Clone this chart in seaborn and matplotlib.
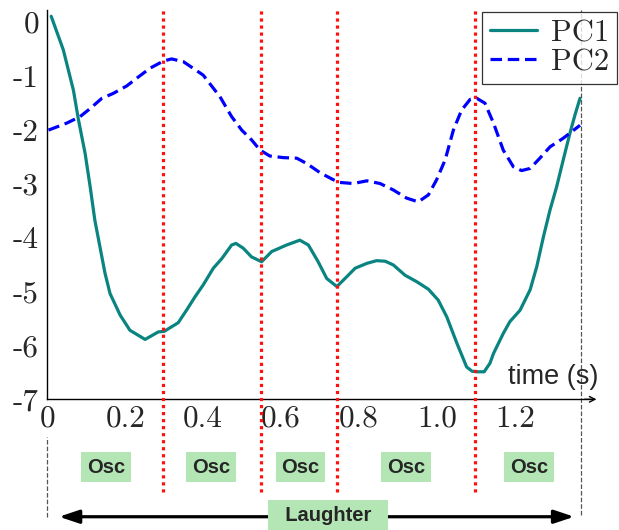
import matplotlib
matplotlib.use("Agg")
import matplotlib.pyplot as plt
import pandas as pd
import seaborn as sns

# Principal-component scores over one laughter episode
pc1_time = [0.010, 0.041, 0.067, 0.080, 0.097, 0.110, 0.122, 0.135, 0.148, 0.161,
            0.187, 0.212, 0.251, 0.285, 0.300, 0.336, 0.358, 0.379, 0.400, 0.426,
            0.448, 0.473, 0.484, 0.503, 0.524, 0.550, 0.576, 0.614, 0.648, 0.670,
            0.695, 0.717, 0.743, 0.764, 0.790, 0.820, 0.845, 0.867, 0.888, 0.918,
            0.948, 0.978, 1.003, 1.025, 1.051, 1.076, 1.090, 1.102, 1.121, 1.136,
            1.145, 1.170, 1.187, 1.213, 1.239, 1.256, 1.273, 1.290, 1.307, 1.324,
            1.341, 1.354, 1.367]
pc1_score = [0.10, -0.52, -1.27, -1.82, -2.44, -3.06, -3.68, -4.17, -4.66, -5.04,
             -5.44, -5.72, -5.89, -5.75, -5.74, -5.58, -5.34, -5.10, -4.88, -4.57,
             -4.39, -4.14, -4.11, -4.20, -4.36, -4.45, -4.26, -4.14, -4.05, -4.14,
             -4.45, -4.76, -4.91, -4.76, -4.57, -4.48, -4.43, -4.44, -4.51, -4.70,
             -4.82, -4.96, -5.16, -5.47, -5.96, -6.40, -6.48, -6.49, -6.49, -6.33,
             -6.15, -5.78, -5.56, -5.35, -4.97, -4.54, -3.99, -3.49, -3.06, -2.56,
             -2.07, -1.73, -1.42]

pc2_time = [0.003, 0.050, 0.084, 0.110, 0.140, 0.169, 0.204, 0.229, 0.264, 0.298,
            0.319, 0.349, 0.400, 0.443, 0.473, 0.499, 0.524, 0.546, 0.571, 0.606,
            0.640, 0.666, 0.700, 0.734, 0.751, 0.785, 0.820, 0.854, 0.888, 0.922,
            0.952, 0.978, 0.999, 1.021, 1.042, 1.063, 1.085, 1.102, 1.123, 1.145,
            1.170, 1.196, 1.217, 1.239, 1.264, 1.290, 1.324, 1.367]
pc2_score = [-2.01, -1.88, -1.76, -1.61, -1.42, -1.33, -1.19, -1.05, -0.86, -0.73,
             -0.69, -0.74, -0.99, -1.39, -1.76, -2.01, -2.19, -2.38, -2.49, -2.52,
             -2.53, -2.63, -2.80, -2.93, -2.98, -3.00, -2.95, -3.00, -3.12, -3.27,
             -3.34, -3.21, -2.93, -2.56, -2.01, -1.64, -1.44, -1.42, -1.51, -1.88,
             -2.38, -2.69, -2.76, -2.72, -2.53, -2.32, -2.16, -1.92]

# Segment boundaries and oscillation phase labels
boundaries = [0.298, 0.549, 0.743, 1.098]
osc_centers = [0.151, 0.420, 0.649, 0.920, 1.236]
osc_label = "Osc"
episode_label = "Laughter"
episode_start, episode_end = 0.0, 1.369

x_ticks = [0.0, 0.2, 0.4, 0.6, 0.8, 1.0, 1.2]
x_tick_labels = ["0", "0.2", "0.4", "0.6", "0.8", "1.0", "1.2"]
y_ticks = [0, -1, -2, -3, -4, -5, -6, -7]
y_tick_labels = ["0", "-1", "-2", "-3", "-4", "-5", "-6", "-7"]

sns.set_style("white")
plt.rcParams["font.family"] = ["Liberation Sans", "DejaVu Sans"]

W, H = 619, 530
fig = plt.figure(figsize=(W / 100, H / 100), dpi=100)
left_px, right_px, top_px, bottom_px = 47.3, 590, 10, 399.3
ax = fig.add_axes([left_px / W, 1 - bottom_px / H,
                   (right_px - left_px) / W, (bottom_px - top_px) / H])
ax.set_xlim(0, (right_px - left_px) / 389.7)
ax.set_ylim(-7, (21.7 - top_px) / 53.94)
ax.patch.set_alpha(0)

teal = "#0a8480"
blue = "#0000ff"

sns.lineplot(x=pc1_time, y=pc1_score, ax=ax, color=teal, linewidth=2.3,
             label="PC1", clip_on=False)
sns.lineplot(x=pc2_time, y=pc2_score, ax=ax, color=blue, linewidth=2.3,
             linestyle=(0, (3.6, 1.8)), label="PC2", clip_on=False)

y_top = ax.get_ylim()[1]

# Segment boundaries, extended into the annotation band
ax.vlines(boundaries, -8.71, y_top, colors="#ff1010", linewidth=2.3,
          linestyles=[(0, (1.0, 1.2))], clip_on=False, zorder=3)

# Extent of the laughter episode
ax.vlines([episode_start], -9.18, -7.70, colors="#555555", linewidth=0.9,
          linestyles="--", clip_on=False)
ax.vlines([episode_end], -9.15, y_top, colors="#555555", linewidth=0.9,
          linestyles="--", clip_on=False)

green = "#b3e6b4"
for c in osc_centers:
    ax.text(c, -8.256, osc_label, ha="center", va="center", fontsize=14.5,
            fontweight="bold", clip_on=False, zorder=4,
            bbox=dict(boxstyle="square,pad=0.28", fc=green, ec="none"))

ax.annotate("", xy=(0.030, -9.177), xytext=(1.352, -9.177),
            arrowprops=dict(arrowstyle="<|-|>,head_length=0.6,head_width=0.2",
                            color="black", lw=2.3, shrinkA=0, shrinkB=0,
                            mutation_scale=20),
            annotation_clip=False, zorder=4)
ax.text(0.721, -9.145, "  " + episode_label + "  ", ha="center", va="center",
        fontsize=14.5, fontweight="bold", clip_on=False, zorder=5,
        bbox=dict(boxstyle="square,pad=0.28", fc=green, ec="none"))

ax.text(1.298, -6.59, "time (s)", ha="center", va="center", fontsize=19.5,
        zorder=5)

# Axes: left and bottom spines only, inward ticks, arrow on the time axis
for side in ("top", "right"):
    ax.spines[side].set_visible(False)
for side in ("left", "bottom"):
    ax.spines[side].set_color("black")
    ax.spines[side].set_linewidth(1.0)
ax.annotate("", xy=(1.012, 0), xytext=(0.99, 0), xycoords="axes fraction",
            arrowprops=dict(arrowstyle="->,head_length=0.4,head_width=0.2",
                            color="black", lw=1.0, shrinkA=0, shrinkB=0),
            annotation_clip=False)

ax.set_xticks(x_ticks)
ax.set_xticklabels(x_tick_labels, fontfamily="cmr10", fontsize=22.5)
ax.set_yticks(y_ticks)
ax.set_yticklabels(y_tick_labels, fontfamily="cmr10", fontsize=22.5)
ax.tick_params(axis="both", direction="in", length=5, width=1.0, color="black")
ax.tick_params(axis="x", pad=4)
ax.tick_params(axis="y", pad=6)
ax.set_xlabel("")
ax.set_ylabel("")

leg = ax.legend(loc="upper right", bbox_to_anchor=(616.5 / W, 1 - 12 / H),
                bbox_transform=fig.transFigure, prop={"family": "cmr10", "size": 22},
                frameon=True, fancybox=False, framealpha=0.8, edgecolor="black",
                borderpad=0.25, labelspacing=0.05, handlelength=1.55,
                handletextpad=0.45, borderaxespad=0)
leg.get_frame().set_linewidth(0.9)

fig.savefig("out.png", dpi=100)
